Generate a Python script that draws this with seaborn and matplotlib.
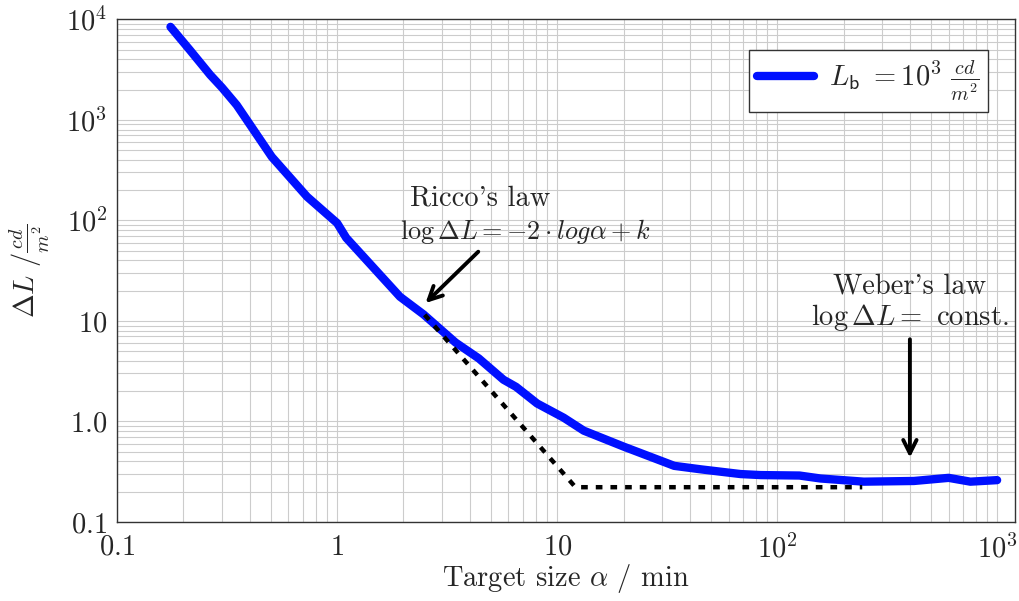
# Ricco / Weber threshold curve, log-log

import numpy as np
import pandas as pd
import matplotlib
matplotlib.use('Agg')
import matplotlib.pyplot as plt
from matplotlib.ticker import FixedLocator, FixedFormatter, LogLocator, NullFormatter
import seaborn as sns

############################
# DATA
############################

# blue curve: threshold contrast vs target size, L_b = 10^3 cd/m^2
target_size = [0.175, 0.215, 0.265, 0.30, 0.35, 0.505, 0.73, 1.0, 1.1, 1.93,
               2.47, 3.45, 4.4, 5.7, 6.5, 8.1, 10.7, 13.2, 20, 34,
               45, 68, 84, 126, 157, 247, 417, 600, 753, 996]
delta_l = [8400, 4900, 2800, 2090, 1400, 428, 172, 94, 67, 17.4,
           11.6, 6.1, 4.24, 2.6, 2.21, 1.51, 1.09, 0.81, 0.563, 0.362,
           0.334, 0.30, 0.293, 0.29, 0.271, 0.252, 0.256, 0.275, 0.252, 0.261]

# dotted asymptotes (Ricco slope, then Weber plateau)
asym_x = [2.5, 12.1, 243]
asym_y = [11.5, 0.222, 0.222]

x_ticks = [0.1, 1, 10, 100, 1000]
x_tick_labels = ['$0.1$', '$1$', '$10$', '$10^{2}$', '$10^{3}$']
y_ticks = [0.1, 1, 10, 100, 1000, 10000]
y_tick_labels = ['$0.1$', '$1.0$', '$10$', '$10^{2}$', '$10^{3}$', '$10^{4}$']

curve = pd.DataFrame({'size': target_size, 'dL': delta_l})
asym = pd.DataFrame({'size': asym_x, 'dL': asym_y})

############################
# STYLE
############################

sns.set_theme(style='white')
plt.rcParams['font.family'] = ['cmr10', 'DejaVu Serif']
plt.rcParams['mathtext.fontset'] = 'cm'
plt.rcParams['axes.unicode_minus'] = False
plt.rcParams['axes.formatter.use_mathtext'] = True
FS = 20.5

############################
# PLOT
############################

fig, ax = plt.subplots(figsize=(10.19, 6.01), dpi=100)
fig.subplots_adjust(left=0.1148, right=0.996, bottom=0.1314, top=0.968)

sns.lineplot(data=curve, x='size', y='dL', ax=ax, color='#0010ff', lw=6,
             label=r'$L_{\mathsf{b}}\ =10^3\ \frac{cd}{m^2}$', zorder=3)
sns.lineplot(data=asym, x='size', y='dL', ax=ax, color='black', lw=3.2,
             linestyle=(0, (1.5, 1.8)), zorder=4)

ax.set_xscale('log')
ax.set_yscale('log')
ax.set_xlim(0.1, 1200)
ax.set_ylim(0.1, 10000)

ax.xaxis.set_major_locator(FixedLocator(x_ticks))
ax.xaxis.set_major_formatter(FixedFormatter(x_tick_labels))
ax.yaxis.set_major_locator(FixedLocator(y_ticks))
ax.yaxis.set_major_formatter(FixedFormatter(y_tick_labels))
ax.xaxis.set_minor_locator(LogLocator(base=10, subs=np.arange(2, 10), numticks=20))
ax.yaxis.set_minor_locator(LogLocator(base=10, subs=np.arange(2, 10), numticks=20))
ax.xaxis.set_minor_formatter(NullFormatter())
ax.yaxis.set_minor_formatter(NullFormatter())

ax.grid(True, which='both', color='#cccccc', lw=0.8)
ax.tick_params(which='both', direction='in', labelsize=FS, color='#555555')
ax.tick_params(which='major', length=4)
ax.tick_params(which='minor', length=2)
ax.tick_params(axis='x', pad=9)
ax.tick_params(axis='y', pad=7)
for s in ax.spines.values():
    s.set_color('#333333')
    s.set_linewidth(1.0)

ax.set_xlabel(r'Target size $\alpha$ / min', fontsize=FS, labelpad=-1)
ax.set_ylabel(r'$\Delta L\ /\frac{cd}{m^2}$', fontsize=FS, labelpad=10)

# annotations
ax.text(4.47, 166, "Ricco's law", fontsize=FS, ha='center', va='center')
ax.text(7.2, 77, r'$\log\Delta L=-2\cdot log\alpha+k$', fontsize=FS * 0.92,
        ha='center', va='center')
ax.annotate('', xy=(2.47, 14.4), xytext=(4.47, 51),
            arrowprops=dict(arrowstyle='->', lw=2.8, color='black',
                            mutation_scale=24))

ax.text(400, 22.2, "Weber's law", fontsize=FS, ha='center', va='center')
ax.text(400, 10.9, r'$\log\Delta L=$ const.', fontsize=FS, ha='center', va='center')
ax.annotate('', xy=(400, 0.41), xytext=(400, 7.0),
            arrowprops=dict(arrowstyle='->', lw=2.8, color='black',
                            mutation_scale=24))

leg = ax.legend(loc='upper right', bbox_to_anchor=(0.970, 0.938), borderaxespad=0,
                fontsize=FS, frameon=True, fancybox=False, handlelength=2.0,
                borderpad=0.3, handletextpad=0.5)
leg.get_frame().set_edgecolor('#333333')
leg.get_frame().set_linewidth(1.0)
leg.get_frame().set_alpha(1)

plt.savefig('out.png', dpi=100)
